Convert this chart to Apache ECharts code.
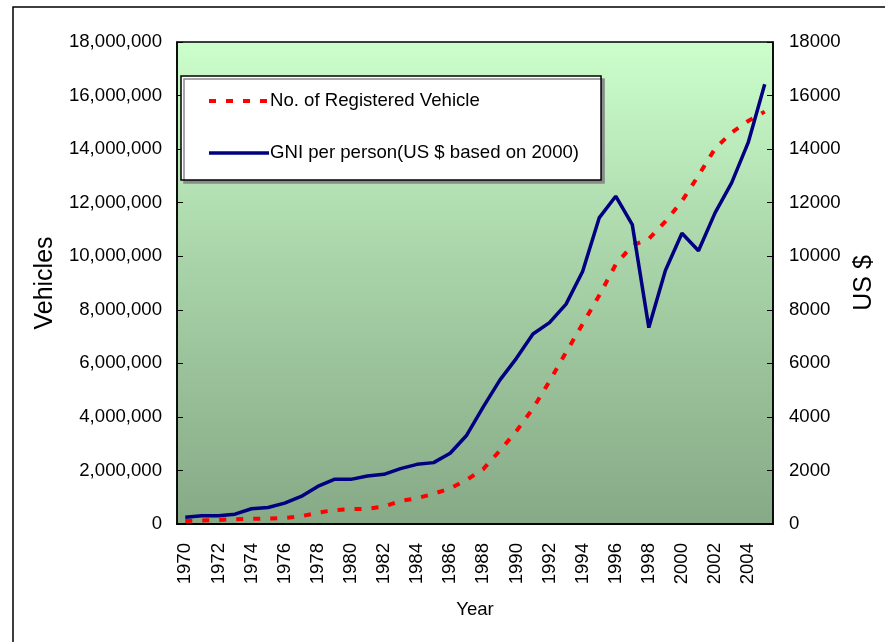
<!DOCTYPE html>
<html>
<head>
<meta charset="utf-8">
<script src="https://cdn.jsdelivr.net/npm/echarts@6/dist/echarts.min.js"></script>
<style>
  html, body { margin: 0; padding: 0; background: #fff; }
  #chart { width: 885px; height: 642px; }
</style>
</head>
<body>
<div id="chart"></div>
<script>
// Registered vehicles and GNI per person, 1970-2005
const years = [];
for (let y = 1970; y <= 2005; y++) years.push(String(y));

const vehicles = [
  110000, 130000, 150000, 180000, 195000, 205000, 225000, 290000, 420000, 520000,
  555000, 570000, 650000, 860000, 960000, 1130000, 1330000, 1650000, 2050000, 2740000,
  3470000, 4315000, 5330000, 6410000, 7472000, 8530000, 9690000, 10400000, 10650000, 11300000,
  12060000, 13015000, 14020000, 14620000, 15050000, 15400000
];

const gniPerPerson = [
  255, 307, 307, 367, 570, 618, 779, 1030, 1404, 1667,
  1667, 1790, 1854, 2067, 2228, 2292, 2640, 3315, 4375, 5375,
  6187, 7097, 7521, 8210, 9431, 11430, 12240, 11180, 7334, 9468,
  10860, 10206, 11618, 12740, 14240, 16420
];

const vehicleTicks = [0, 18000000, 2000000];   // min, max, interval
const gniTicks = [0, 18000, 2000];

const FONT = '"Liberation Sans", Arial, sans-serif';
const FS = 18.6;

const redDash = { color: '#ff0000', width: 4, type: [7, 10] };
const navyLine = { color: '#000080', width: 3.5 };

const chart = echarts.init(document.getElementById('chart'), null, { renderer: 'canvas' });

chart.setOption({
  animation: false,
  backgroundColor: '#ffffff',
  textStyle: { fontFamily: FONT, color: '#000' },
  graphic: [{
    type: 'rect',
    shape: { x: 13, y: 7, width: 900, height: 700 },
    style: { fill: 'none', stroke: '#000', lineWidth: 1.5 },
    z: -10
  }],
  grid: {
    left: 177, right: 112, top: 42, bottom: 118,
    show: true,
    borderColor: '#000',
    borderWidth: 1.5,
    backgroundColor: {
      type: 'linear', x: 0, y: 0, x2: 0, y2: 1,
      colorStops: [
        { offset: 0, color: '#ccffcc' },
        { offset: 0.45, color: '#a9d4a9' },
        { offset: 1, color: '#86a986' }
      ]
    }
  },
  legend: {
    orient: 'vertical',
    left: 181, top: 76,
    padding: [15, 22, 17, 26],
    itemGap: 32,
    itemWidth: 60,
    itemHeight: 20,
    backgroundColor: '#ffffff',
    borderColor: '#000',
    borderWidth: 1.5,
    borderRadius: 0,
    shadowColor: '#8a8a8a',
    shadowBlur: 0,
    shadowOffsetX: 3,
    shadowOffsetY: 3,
    itemStyle: { opacity: 0 },
    textStyle: { fontSize: FS, fontFamily: FONT, color: '#000', padding: [0, 0, 0, -4], lineHeight: 20 },
    data: [
      { name: 'No. of Registered Vehicle', lineStyle: redDash, itemStyle: { opacity: 0 } },
      { name: 'GNI per person(US $ based on 2000)', lineStyle: navyLine, itemStyle: { opacity: 0 } }
    ]
  },
  xAxis: {
    type: 'category',
    data: years,
    boundaryGap: true,
    name: 'Year',
    nameLocation: 'middle',
    nameGap: 76,
    nameTextStyle: { fontSize: FS, fontFamily: FONT, color: '#000' },
    axisLine: { lineStyle: { color: '#000', width: 2 } },
    axisTick: { inside: true, length: 5, interval: 0, lineStyle: { color: '#000', width: 1 } },
    axisLabel: { interval: 1, rotate: 90, fontSize: FS, margin: 19, color: '#000', fontFamily: FONT },
    splitLine: { show: false }
  },
  yAxis: [
    {
      type: 'value',
      min: vehicleTicks[0], max: vehicleTicks[1], interval: vehicleTicks[2],
      position: 'left',
      name: 'Vehicles',
      nameLocation: 'middle',
      nameRotate: 90,
      nameGap: 116,
      nameTextStyle: { fontSize: 25, fontFamily: FONT, color: '#000' },
      axisLine: { show: true, lineStyle: { color: '#000', width: 1.5 } },
      axisTick: { show: true, inside: true, length: 6, lineStyle: { color: '#000' } },
      axisLabel: {
        fontSize: FS, margin: 15, color: '#000', fontFamily: FONT,
        formatter: v => v.toLocaleString('en-US')
      },
      splitLine: { show: false }
    },
    {
      type: 'value',
      min: gniTicks[0], max: gniTicks[1], interval: gniTicks[2],
      position: 'right',
      name: 'US $',
      nameLocation: 'middle',
      nameRotate: 90,
      nameGap: 78,
      nameTextStyle: { fontSize: 25, fontFamily: FONT, color: '#000' },
      axisLine: { show: true, lineStyle: { color: '#000', width: 1.5 } },
      axisTick: { show: true, inside: true, length: 6, lineStyle: { color: '#000' } },
      axisLabel: {
        fontSize: FS, margin: 16, color: '#000', fontFamily: FONT,
        formatter: v => String(v)
      },
      splitLine: { show: false }
    }
  ],
  series: [
    {
      name: 'No. of Registered Vehicle',
      type: 'line',
      yAxisIndex: 0,
      data: vehicles,
      symbol: 'none',
      lineStyle: redDash,
      itemStyle: { color: '#ff0000' },
      z: 3
    },
    {
      name: 'GNI per person(US $ based on 2000)',
      type: 'line',
      yAxisIndex: 1,
      data: gniPerPerson,
      symbol: 'none',
      lineStyle: navyLine,
      itemStyle: { color: '#000080' },
      z: 4
    }
  ]
});
</script>
</body>
</html>
